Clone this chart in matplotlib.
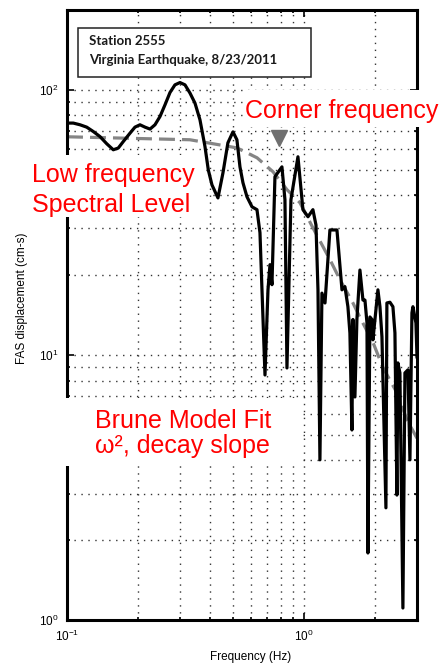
import matplotlib

matplotlib.use("Agg")
import matplotlib.pyplot as plt
from matplotlib.patches import Rectangle
from matplotlib.ticker import LogLocator, NullFormatter, LogFormatterMathtext

freq = [
    0.1, 0.1063, 0.1135, 0.1211, 0.1291, 0.1378, 0.1471, 0.1568, 0.1646, 0.1728,
    0.1844, 0.1936, 0.2032, 0.2134, 0.2240, 0.2351, 0.2469, 0.2592, 0.2721, 0.2855,
    0.2998, 0.3147, 0.3304, 0.3468, 0.3640, 0.3822, 0.3947, 0.4090, 0.4336, 0.4552,
    0.4776, 0.5017, 0.5213, 0.5370, 0.5529, 0.5748, 0.6035, 0.6335, 0.6522, 0.6848,
    0.7050, 0.7189, 0.7328, 0.7544, 0.8074, 0.8314, 0.8478, 0.8813, 0.9434, 0.9903,
    1.040, 1.091, 1.124, 1.146, 1.168, 1.191, 1.227, 1.287, 1.378, 1.447,
    1.489, 1.533, 1.563, 1.594, 1.610, 1.641, 1.673, 1.723, 1.774, 1.809,
    1.845, 1.862, 1.899, 1.936, 1.955, 2.052, 2.093, 2.134, 2.218, 2.239,
    2.306, 2.374, 2.421, 2.468, 2.492, 2.541, 2.616, 2.668, 2.747, 2.801,
    2.856, 2.884, 2.969, 3.0,
]
fas = [
    74.9, 74.9, 73.8, 72.3, 69.6, 66.6, 62.6, 59.4, 60.3, 63.8,
    68.6, 72.3, 73.8, 72.3, 71.1, 73.8, 79.3, 87.8, 97.7, 104.4,
    106.5, 104.4, 97.2, 89.1, 77.1, 61.1, 49.9, 43.8, 39.1, 48.6,
    63.1, 69.4, 64.8, 51.2, 44.6, 39.5, 36.2, 35.3, 28.9, 8.4,
    17.6, 21.9, 18.4, 47.0, 51.2, 38.5, 8.93, 38.5, 55.9, 35.3,
    33.2, 35.3, 30.9, 17.6, 4.02, 17.1, 15.7, 29.6, 29.6, 17.6,
    18.1, 15.2, 12.1, 5.21, 13.6, 6.94, 13.6, 20.9, 16.1, 16.1,
    13.2, 1.79, 13.9, 13.6, 11.4, 17.6, 15.2, 11.7, 2.65, 15.7,
    15.8, 15.2, 12.1, 2.96, 9.33, 8.55, 1.11, 8.55, 8.78, 4.02,
    14.4, 15.2, 13.2, 9.83,
]

# Brune model fit (dashed grey)
brune_freq = [0.1, 0.330, 0.521, 0.634, 0.740, 0.848, 0.962, 1.09, 1.29, 1.42,
              1.61, 1.72, 1.96, 2.15, 2.47, 2.72, 3.0]
brune_fas = [66.5, 64.8, 60.4, 55.4, 49.1, 42.0, 37.5, 30.2, 22.8, 19.2,
             15.7, 13.9, 11.1, 9.0, 7.19, 5.69, 4.85]

corner_freq = 0.785
corner_level = 65.9

station_lines = ["Station 2555", "Virginia Earthquake, 8/23/2011"]
notes = {
    "corner": "Corner frequency",
    "low": "Low frequency\nSpectral Level",
    "brune": "Brune Model Fit\n\u03c9\u00b2, decay slope",
}

W, H = 445, 663


def fx(px):
    return px / W


def fy(py):
    return 1 - py / H


def main() -> None:
    plt.rcParams["font.family"] = ["Liberation Sans", "DejaVu Sans"]
    plt.rcParams["mathtext.fontset"] = "custom"
    plt.rcParams["mathtext.rm"] = "Liberation Sans"
    plt.rcParams["mathtext.default"] = "regular"

    fig = plt.figure(figsize=(W / 100, H / 100), dpi=100)
    ax = fig.add_axes([fx(67), fy(620), fx(417) - fx(67), fy(10) - fy(620)])

    ax.plot(freq, fas, color="black", lw=2.3, solid_joinstyle="round", zorder=3)
    ax.plot(brune_freq, brune_fas, color="#858585", lw=2.3,
            linestyle=(0, (5, 2.2)), zorder=2)
    ax.plot([corner_freq], [corner_level], marker="v", ms=12,
            color="#6f6f6f", zorder=4)

    ax.set_xscale("log")
    ax.set_yscale("log")
    ax.set_xlim(0.1, 3.0)
    ax.set_ylim(1, 200)

    for axis in (ax.xaxis, ax.yaxis):
        axis.set_major_locator(LogLocator(base=10))
        axis.set_minor_locator(LogLocator(base=10, subs=range(2, 10)))
        axis.set_major_formatter(LogFormatterMathtext())
        axis.set_minor_formatter(NullFormatter())

    ax.grid(which="both", color="#333333", linestyle=(0, (1, 4)), lw=1.0)
    ax.tick_params(which="both", direction="in", top=True, right=True,
                   labelsize=8.5, width=1.2)
    ax.tick_params(which="major", length=5, pad=6)
    ax.tick_params(which="minor", length=2.5)
    for sp in ax.spines.values():
        sp.set_linewidth(2.2)

    fig.text(fx(22), fy(298), "FAS displacement (cm-s)", rotation=90,
             ha="center", va="center", fontsize=8.5)
    fig.text(fx(251), fy(657), "Frequency (Hz)", ha="center", va="center",
             fontsize=8.5)

    # station box
    fig.add_artist(Rectangle((fx(78), fy(77)), fx(311) - fx(78), fy(28) - fy(77),
                             transform=fig.transFigure, facecolor="white",
                             edgecolor="#222222", lw=1.1, zorder=2))
    fig.text(fx(89), fy(45), station_lines[0], fontsize=9.5, fontweight="bold",
             family=["Lato", "DejaVu Sans"], color="#1a1a1a", zorder=3)
    fig.text(fx(89), fy(64), station_lines[1], fontsize=9.5, fontweight="bold",
             family=["Lato", "DejaVu Sans"], color="#1a1a1a", zorder=3)

    # white patches behind red notes
    for x0, y0, x1, y1 in [(243, 90, 445, 127), (29, 155, 204, 217),
                           (64, 398, 303, 466)]:
        fig.add_artist(Rectangle((fx(x0), fy(y1)), fx(x1) - fx(x0), fy(y0) - fy(y1),
                                 transform=fig.transFigure, facecolor="white",
                                 edgecolor="none", zorder=2))

    fig.text(fx(245), fy(118), notes["corner"], color="red", fontsize=18,
             ha="left", va="baseline", zorder=3)
    fig.text(fx(32), fy(212), notes["low"], color="red", fontsize=18,
             ha="left", va="baseline", linespacing=1.3, zorder=3)
    fig.text(fx(95), fy(453), notes["brune"], color="red", fontsize=18,
             ha="left", va="baseline", linespacing=1.05, zorder=3)

    fig.savefig("out.png", dpi=100)


if __name__ == "__main__":
    main()
